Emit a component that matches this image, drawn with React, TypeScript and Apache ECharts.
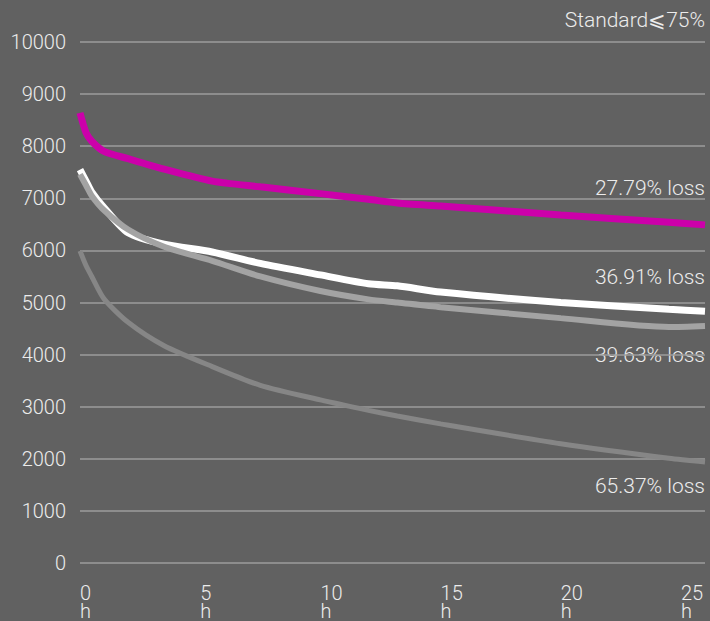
import React, { useEffect, useRef } from "react";
import * as echarts from "echarts";

const hours = [0, 0.25, 0.5, 1, 2, 3.5, 5.5, 7.5, 10, 12, 13.2, 15, 20, 24.5, 26];
const pinkValues = [8640, 8260, 8090, 7900, 7760, 7560, 7330, 7220, 7090, 6980, 6910, 6850, 6680, 6540, 6490];
const whiteValues = [7550, 7330, 7110, 6820, 6340, 6120, 5970, 5750, 5530, 5360, 5320, 5200, 5000, 4870, 4830];
const lightGreyValues = [7460, 7250, 7040, 6770, 6400, 6070, 5800, 5500, 5220, 5060, 5000, 4910, 4700, 4530, 4550];
const darkGreyValues = [5990, 5710, 5490, 5070, 4620, 4170, 3770, 3410, 3130, 2930, 2820, 2670, 2290, 2010, 1940];
const xTickValues = [0, 5, 10, 15, 20, 25];
const annotations = ["Standard⩽75%", "27.79% loss", "36.91% loss", "39.63% loss", "65.37% loss"];

const FONT = "Roboto, 'Liberation Sans', sans-serif";
const TEXT = "#ececec";

function pairs(vals: number[]) {
  return hours.map((h, i) => [h, vals[i]]);
}

export default function App() {
  const ref = useRef<HTMLDivElement>(null);
  useEffect(() => {
    if (!ref.current) return;
    const chart = echarts.init(ref.current, null, { renderer: "svg" });
    const annTops = [9, 177, 266, 344, 475];
    chart.setOption({
      animation: false,
      backgroundColor: "#616161",
      grid: { left: 80, right: 5, top: 42, bottom: 55 },
      xAxis: {
        type: "value",
        min: 0,
        max: 26,
        interval: 5,
        axisLine: { show: false },
        axisTick: { show: false },
        splitLine: { show: false },
        axisLabel: {
          customValues: xTickValues,
          formatter: "{value}\nh",
          color: TEXT,
          fontSize: 20,
          lineHeight: 18,
          fontFamily: FONT,
          fontWeight: 300,
          align: "left",
          margin: 21,
        },
      },
      yAxis: {
        type: "value",
        min: 0,
        max: 10000,
        interval: 1000,
        axisLine: { show: false },
        axisTick: { show: false },
        splitLine: { show: true, lineStyle: { color: "#9c9c9c", width: 1.5 } },
        axisLabel: {
          color: TEXT,
          fontSize: 20,
          fontFamily: FONT,
          fontWeight: 300,
          margin: 14,
          formatter: (v: number) => String(v),
        },
      },
      series: [
        {
          type: "line",
          data: pairs(whiteValues),
          symbol: "none",
          lineStyle: { color: "#ffffff", width: 7, cap: "butt" },
          smooth: 0.25,
        },
        {
          type: "line",
          data: pairs(lightGreyValues),
          symbol: "none",
          lineStyle: { color: "#a3a3a3", width: 6, cap: "butt" },
          smooth: 0.25,
        },
        {
          type: "line",
          data: pairs(darkGreyValues),
          symbol: "none",
          lineStyle: { color: "#868686", width: 5, cap: "butt" },
          smooth: 0.25,
        },
        {
          type: "line",
          data: pairs(pinkValues),
          symbol: "none",
          lineStyle: { color: "#cc00aa", width: 7, cap: "butt" },
          smooth: 0.25,
        },
      ],
      graphic: annotations.map((t, i) => ({
        type: "text",
        right: 5,
        top: annTops[i],
        style: {
          text: t,
          fill: TEXT,
          font: `300 21px ${FONT}`,
        },
      })),
    });
    return () => chart.dispose();
  }, []);
  return (
    <div
      ref={ref}
      style={{ position: "fixed", left: 0, top: 0, width: 710, height: 621, background: "#616161" }}
    />
  );
}
